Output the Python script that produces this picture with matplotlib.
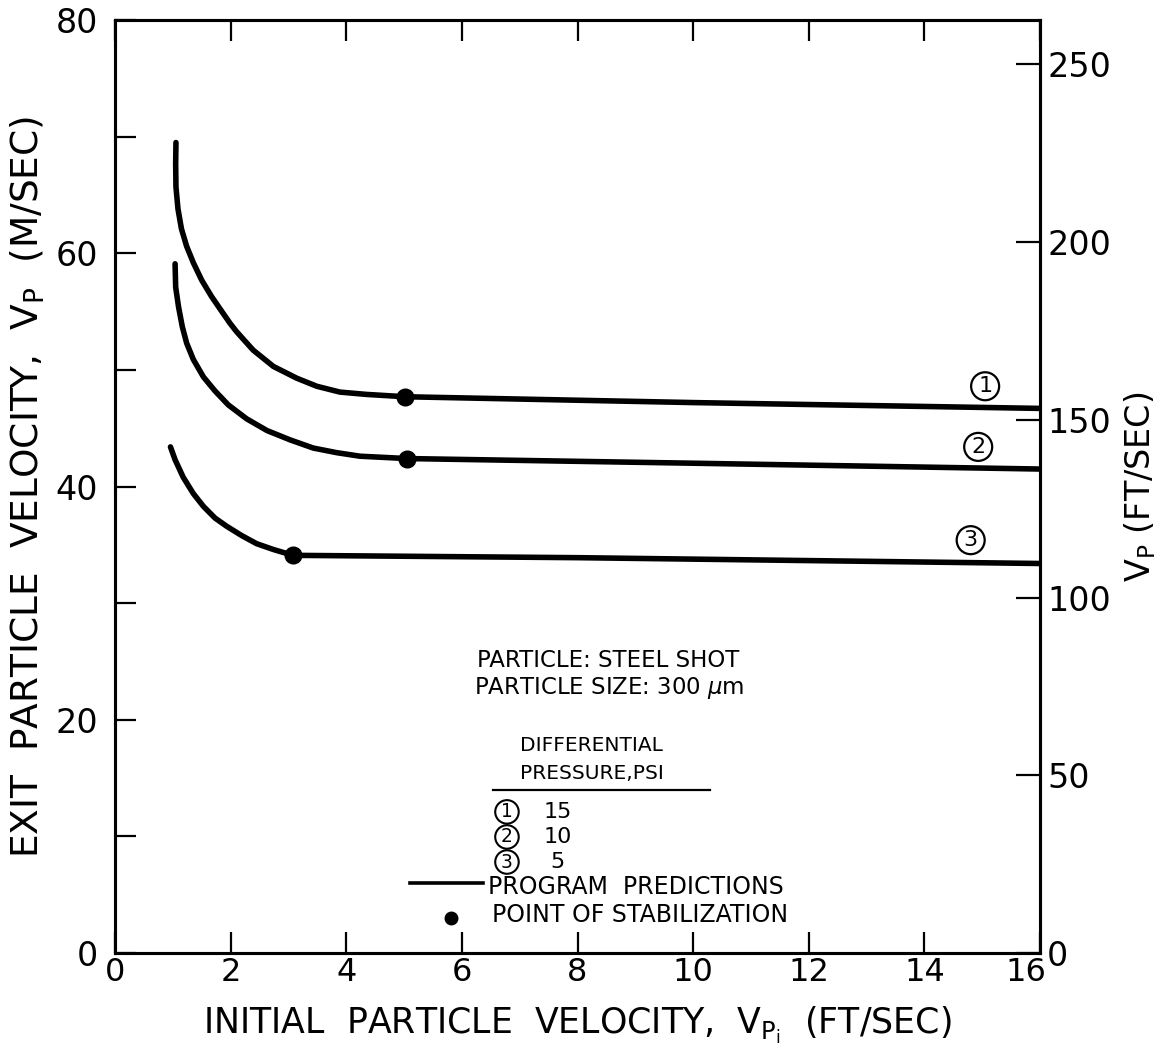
import matplotlib
matplotlib.use("Agg")
import matplotlib.pyplot as plt
from matplotlib.transforms import ScaledTranslation

# Exit particle velocity (m/s) vs. initial particle velocity (ft/s)
vpi_15 = [1.055, 1.05, 1.055, 1.09, 1.15, 1.24, 1.355, 1.50, 1.67, 1.85, 1.99,
          2.10, 2.39, 2.74, 3.14, 3.49, 3.89, 4.35, 5.02, 10.0, 16.0]
vp_15 = [69.5, 67.7, 65.7, 63.8, 62.1, 60.6, 59.2, 57.7, 56.3, 55.0, 54.0,
         53.3, 51.7, 50.3, 49.3, 48.6, 48.1, 47.9, 47.7, 47.2, 46.7]

vpi_10 = [1.04, 1.05, 1.10, 1.165, 1.24, 1.355, 1.53, 1.73, 1.96, 2.28, 2.63,
          3.03, 3.43, 3.84, 4.24, 5.05, 10.0, 16.0]
vp_10 = [59.1, 57.1, 55.4, 53.7, 52.3, 50.9, 49.4, 48.2, 47.0, 45.8, 44.8,
         44.0, 43.3, 42.9, 42.6, 42.4, 42.0, 41.5]

vpi_5 = [0.96, 1.04, 1.18, 1.355, 1.53, 1.73, 1.93, 2.19, 2.45, 2.74, 3.08, 8.0, 16.0]
vp_5 = [43.4, 42.3, 40.8, 39.4, 38.3, 37.3, 36.6, 35.8, 35.1, 34.6, 34.1, 33.9, 33.4]

# Points of stabilization
stab_x = [5.02, 5.05, 3.08]
stab_y = [47.7, 42.4, 34.1]

curve_ids = ["1", "2", "3"]
pressures = ["15", "10", "5"]

x_ticks = [0, 2, 4, 6, 8, 10, 12, 14, 16]
y_ticks_major = [0, 20, 40, 60, 80]
y_ticks_minor = [10, 30, 50, 70]
ft_ticks = [0, 50, 100, 150, 200, 250]
M_TO_FT = 3.2808

plt.rcParams["font.family"] = ["DejaVu Sans"]
plt.rcParams["mathtext.fontset"] = "dejavusans"

fig = plt.figure(figsize=(11.6, 10.57), dpi=100)
ax = fig.add_axes([0.0991, 0.0984, 0.7975, 0.8826])

lw = 4.0
for xs, ys in [(vpi_15, vp_15), (vpi_10, vp_10), (vpi_5, vp_5)]:
    ax.plot(xs, ys, color="black", lw=lw, solid_capstyle="round",
            solid_joinstyle="round")
ax.plot(stab_x, stab_y, "o", color="black", ms=12, ls="none")

ax.set_xlim(0, 16)
ax.set_ylim(0, 80)
for s in ax.spines.values():
    s.set_linewidth(2.2)

ax.set_xticks(x_ticks)
ax.set_xticklabels([str(t) for t in x_ticks])
ax.set_yticks(y_ticks_major)
ax.set_yticks(y_ticks_minor, minor=True)
ax.tick_params(axis="x", which="both", direction="in", top=True, length=15, width=1.6,
               labelsize=23, pad=3)
ax.tick_params(axis="y", which="both", direction="in", left=True, right=False,
               length=15, width=1.6, labelsize=24, pad=12)

# nudge the last x tick label left, clear of the right-axis zero
last = ax.get_xticklabels()[-1]
last.set_transform(last.get_transform() + ScaledTranslation(-10 / 72, 0, fig.dpi_scale_trans))

ax.set_xlabel(r"INITIAL  PARTICLE  VELOCITY,  $\mathregular{V_{P_i}}$  (FT/SEC)",
              fontsize=25, labelpad=12)
ax.set_ylabel(r"EXIT  PARTICLE  VELOCITY,  $\mathregular{V_P}$  (M/SEC)",
              fontsize=27, labelpad=6)

# Secondary axis in ft/s
ax2 = ax.twinx()
ax2.set_ylim(0, 80 * M_TO_FT)
ax2.set_yticks(ft_ticks)
ax2.set_yticklabels([str(t) for t in ft_ticks])
ax2.tick_params(axis="y", direction="in", length=17, width=1.6, labelsize=24, pad=5)
for s in ax2.spines.values():
    s.set_linewidth(2.2)
ax2.set_ylabel(r"$\mathregular{V_P}$ (FT/SEC)", fontsize=24, labelpad=8)

# Curve labels
circ = dict(boxstyle="circle,pad=0.18", fc="white", ec="black", lw=1.6)
label_pos = [(15.05, 48.6), (14.93, 43.4), (14.8, 35.4)]
for cid, (lx, ly) in zip(curve_ids, label_pos):
    ax.text(lx, ly, cid, fontsize=16, ha="center", va="center", bbox=circ)

# Notes
ax.text(8.53, 25.1, "PARTICLE: STEEL SHOT", fontsize=16.5, ha="center", va="center")
ax.text(8.55, 22.7, r"PARTICLE SIZE: 300 $\mu$m", fontsize=16.5, ha="center", va="center")
ax.text(7.0, 17.8, "DIFFERENTIAL", fontsize=14.5, ha="left", va="center")
ax.text(7.0, 15.4, "PRESSURE,PSI", fontsize=14.5, ha="left", va="center")
ax.plot([6.54, 10.3], [14.0, 14.0], color="black", lw=1.6)

circ_small = dict(boxstyle="circle,pad=0.12", fc="white", ec="black", lw=1.5)
for cid, p, yy in zip(curve_ids, pressures, [12.1, 9.95, 7.8]):
    ax.text(6.78, yy, cid, fontsize=13.5, ha="center", va="center", bbox=circ_small)
    ax.text(7.65, yy, p, fontsize=16, ha="center", va="center")

ax.plot([5.1, 6.37], [6.0, 6.0], color="black", lw=2.6)
ax.text(6.45, 5.66, "PROGRAM  PREDICTIONS", fontsize=17, ha="left", va="center")
ax.plot([5.81], [3.0], "o", color="black", ms=9)
ax.text(6.52, 3.3, "POINT OF STABILIZATION", fontsize=17, ha="left", va="center")

fig.savefig("out.png", dpi=100, facecolor="white")
